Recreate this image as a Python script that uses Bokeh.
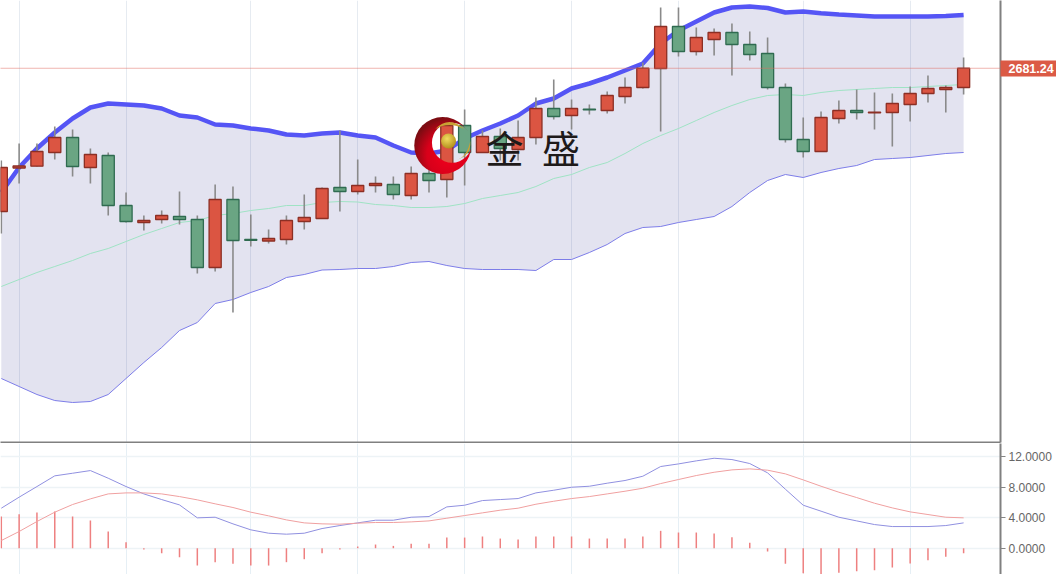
import base64
from bokeh.embed import file_html
from bokeh.layouts import column
from bokeh.models import ColumnDataSource, FixedTicker, NumeralTickFormatter, Range1d, Span
from bokeh.plotting import figure
from bokeh.core.properties import value
from bokeh.resources import INLINE

LAST_PRICE = 2681.24
high = [2589,2606,2606,2623,2620,2601,2597,2557,2534,2539,2558,2534,2565,2563,2535,2520,2534,2555,2562,2619,2590,2573,2573,2583,2589,2632,2640,2619,2621,2629,2652,2670,2650,2645,2658,2672,2687,2742,2742,2722,2721,2726,2718,2712,2666,2632,2638,2649,2660,2657,2656,2663,2674,2664,2692]
open_ = [2538,2581.5,2583.3,2597,2612,2582,2594,2544,2527,2530,2533,2530,2482,2550,2510,2508.5,2510,2528,2531,2562,2558,2564,2565,2554,2576,2570,2624,2597,2613,2600,2612,2641,2634,2640.4,2639,2653,2662,2681,2723,2698,2710,2717,2705,2696,2662,2610,2598,2631,2639,2636.6,2637,2645,2656,2660,2662]
close = [2582,2583.5,2598,2612,2583,2595,2544,2528,2529,2534,2530,2482,2550,2509,2509.2,2511,2529,2532,2561,2558,2564,2566,2555,2576,2569,2624,2597,2613,2601,2612,2641,2633,2641,2639.6,2654,2662,2681.24,2723,2698,2712,2717,2705,2695,2662,2610,2598,2632,2639,2637,2637.4,2646,2656,2661,2662,2681.24]
low = [2516,2566,2583,2590,2573,2566,2534,2527,2519,2526,2525,2476,2478,2437,2503,2506,2505,2520,2531,2538,2555,2557,2550,2550,2557,2552,2564,2597,2589,2589,2605,2630,2620,2635,2636,2646,2661,2618,2693,2694,2694,2674,2689,2660,2607,2592,2598,2626,2630,2620,2603,2628,2647,2637,2655]
boll_upper = [2557,2582,2601,2617,2631,2642,2646,2645,2644,2641,2634,2632,2625,2624,2621,2619,2615,2614,2616,2617,2614,2612,2604,2597,2596,2599,2611,2619,2626,2634,2646,2651,2661,2666,2672,2679,2686,2706,2719,2728,2737,2742,2743,2741.5,2737,2738,2736.3,2735,2734,2733,2733,2733,2733,2733.5,2734.5]
boll_mid = [2463,2470,2477,2483,2489,2496,2501,2508,2515,2521,2527,2529,2534,2536,2539,2541,2544,2544,2547,2548,2547.5,2545,2544,2542,2542,2543,2546,2551,2554,2557,2563,2571,2575,2582,2587,2596,2606,2614,2621,2629,2637,2644,2650,2654,2655,2654,2657,2659,2660,2661,2662,2662,2663,2664,2665]
boll_lower = [2371,2363,2355,2349,2347,2348,2355,2371,2387,2402,2419,2427,2446,2450,2457,2463,2472,2475,2479.5,2480,2481,2481,2483,2487,2488,2484,2481,2480,2480,2480,2479,2490,2490,2497,2505,2516,2522,2523,2527,2530,2533,2543,2557,2569,2575,2572,2577,2581,2584,2590,2591,2592,2594,2596,2597]
macd_dif = [5.23,6.67,8.06,9.46,9.8,10.15,9.15,8.06,7.1,6.36,5.66,3.97,4.05,3.18,2.4,1.96,1.83,1.96,2.57,2.96,3.31,3.66,3.66,4.05,4.14,5.4,5.62,6.23,6.36,6.49,7.23,7.58,7.97,8.1,8.5,8.85,9.41,10.68,11.02,11.42,11.76,11.59,11.07,9.85,7.71,5.62,4.84,4.05,3.57,3.09,2.83,2.83,2.83,2.96,3.31]
macd_dea = [1.0,2.18,3.49,4.71,5.71,6.45,7.1,7.23,7.23,7.1,6.75,6.32,5.8,5.32,4.71,4.23,3.7,3.31,3.18,3.14,3.27,3.36,3.36,3.44,3.57,3.92,4.27,4.62,4.97,5.23,5.75,6.14,6.49,6.75,7.1,7.45,7.84,8.45,8.98,9.5,9.93,10.24,10.37,10.2,9.72,8.93,8.1,7.32,6.62,5.88,5.27,4.75,4.4,4.05,3.97]
macd_hist = [4.14,4.44,4.66,4.79,4.14,3.62,2.18,0.78,-0.17,-0.65,-1.18,-2.27,-1.83,-2.05,-2.27,-2.27,-1.83,-1.44,-0.65,-0.17,0.22,0.48,0.3,0.57,0.57,1.39,1.39,1.53,1.26,1.13,1.53,1.53,1.53,1.26,1.26,1.26,1.53,2.27,2.05,2.05,1.92,1.44,0.7,-0.44,-2.05,-3.27,-3.36,-3.2,-3.0,-2.88,-2.53,-2.0,-1.57,-1.13,-0.65]
grid_days = [1,7,14,20,26,32,38,45,51]
macd_ticks = [0,4,8,12]

RED, RED_EDGE = "#db5542", "#8c2f24"
GREEN, GREEN_EDGE = "#6aa583", "#2f6b50"
n = len(close)
idx = list(range(n))
x_range = Range1d(-0.045, 56.07)

p1 = figure(width=1056, height=443, x_range=x_range, y_range=Range1d(2307, 2749),
            y_axis_location="right", output_backend="svg", toolbar_location=None,
            min_border_left=0, min_border_top=0, min_border_bottom=1, min_border_right=56)
p1.outline_line_color = None
p1.ygrid.visible = False
p1.xgrid.ticker = FixedTicker(ticks=grid_days)
p1.xgrid.grid_line_color = "#e6ebf1"

xax = p1.xaxis[0]
xax.ticker = FixedTicker(ticks=[])
xax.major_tick_line_color = None
xax.minor_tick_line_color = None
xax.major_label_text_font_size = "0px"
xax.axis_line_color = "#808080"
xax.axis_line_width = 2

yax = p1.yaxis[0]
yax.ticker = FixedTicker(ticks=[LAST_PRICE])
yax.formatter = NumeralTickFormatter(format="0.00")
yax.minor_tick_line_color = None
yax.axis_line_color = "#808080"
yax.axis_line_width = 2
yax.major_tick_line_color = "#db5a45"
yax.major_tick_line_width = 16
yax.major_tick_in = 0
yax.major_tick_out = 56
yax.major_label_standoff = -48
yax.major_label_text_color = "white"
yax.major_label_text_font = "Liberation Sans"
yax.major_label_text_font_style = "bold"
yax.major_label_text_font_size = "12.5px"

p1.varea(idx, boll_lower, boll_upper, fill_color="#3c3c96", fill_alpha=0.14)
p1.line(idx, boll_mid, line_color="#9fe3c4", line_width=1)
p1.line(idx, boll_lower, line_color="#7d7de8", line_width=1)
p1.line(idx, boll_upper, line_color="#5555f5", line_width=4.5)

is_up = [c >= o for o, c in zip(open_, close)]
src = ColumnDataSource(dict(
    x=idx, high=high, low=low,
    top=[max(o, c) for o, c in zip(open_, close)],
    bottom=[min(o, c) for o, c in zip(open_, close)],
    fill=[RED if u else GREEN for u in is_up],
    edge=[RED_EDGE if u else GREEN_EDGE for u in is_up],
))
p1.segment("x", "high", "x", "low", source=src, line_color="#8a8a8a", line_width=1.6)
p1.vbar("x", width=0.68, top="top", bottom="bottom", source=src,
        fill_color="fill", line_color="edge", line_width=1.3)

p1.add_layout(Span(location=LAST_PRICE, dimension="width", line_color="#e06a60",
                   line_width=1, line_dash="1 1"))

logo_svg = """<svg xmlns='http://www.w3.org/2000/svg' width='60' height='60' viewBox='0 0 60 60'>
<defs>
<radialGradient id='g' cx='0.62' cy='0.66' r='0.66'><stop offset='0' stop-color='#f4001c'/><stop offset='0.6' stop-color='#d8001a'/><stop offset='1' stop-color='#7c0c12'/></radialGradient>
<radialGradient id='b' cx='0.4' cy='0.35' r='0.7'><stop offset='0' stop-color='#f2dc60'/><stop offset='1' stop-color='#b08c18'/></radialGradient>
<mask id='m'><rect width='60' height='60' fill='white'/><circle cx='38.7' cy='26.7' r='20' fill='black'/></mask>
</defs>
<circle cx='29.5' cy='29.5' r='28.5' fill='url(#g)' mask='url(#m)'/>
<path d='M22 13 Q36 -1 51 13 Q36 5 22 13 Z' fill='#c9a234'/>
<path d='M43 44 Q54 41 57 25 Q58 40 43 44 Z' fill='#c9a234'/>
<circle cx='35.3' cy='25' r='7.5' fill='url(#b)'/>
</svg>"""
logo_url = "data:image/svg+xml;base64," + base64.b64encode(logo_svg.encode()).decode()
p1.image_url(url=[logo_url], x=[24.8], y=[2603.5], w=60, h=60, w_units="screen", h_units="screen", anchor="center")
p1.text(x=[28.24, 31.41], y=[2603, 2603], text=["金", "盛"], text_font=value("Noto Sans CJK SC"),
        text_font_size="38px", text_color="#1e1a1a", text_align="center", text_baseline="middle")

p2 = figure(width=1056, height=131, x_range=x_range, y_range=Range1d(-3.44, 13.69),
            x_axis_location=None, y_axis_location="right", output_backend="svg", toolbar_location=None,
            min_border_left=0, min_border_top=0, min_border_bottom=0, min_border_right=56)
p2.outline_line_color = None
p2.xgrid[0].ticker = FixedTicker(ticks=grid_days)
p2.xgrid[0].grid_line_color = "#e6eff5"
p2.ygrid[0].ticker = FixedTicker(ticks=macd_ticks)
p2.ygrid[0].grid_line_color = "#edf3f6"
p2.ygrid[0].grid_line_width = 1.5
ax = p2.yaxis[0]
ax.ticker = FixedTicker(ticks=macd_ticks)
ax.formatter = NumeralTickFormatter(format="0.0000")
ax.minor_tick_line_color = None
ax.axis_line_color = "#808080"
ax.axis_line_width = 2
ax.major_tick_line_color = "#858585"
ax.major_tick_out = 5
ax.major_tick_in = 0
ax.major_label_standoff = 3
ax.major_label_text_color = "#666666"
ax.major_label_text_font = "Liberation Sans"
ax.major_label_text_font_size = "12px"

p2.segment(idx, [0] * n, idx, macd_hist, line_color="#ee8080", line_width=1.5)
p2.line(idx, macd_dif, line_color="#9090e0", line_width=1)
p2.line(idx, macd_dea, line_color="#f0a0a0", line_width=1)

layout = column(p1, p2, spacing=0)
open("out.html", "w").write(file_html(layout, INLINE))
